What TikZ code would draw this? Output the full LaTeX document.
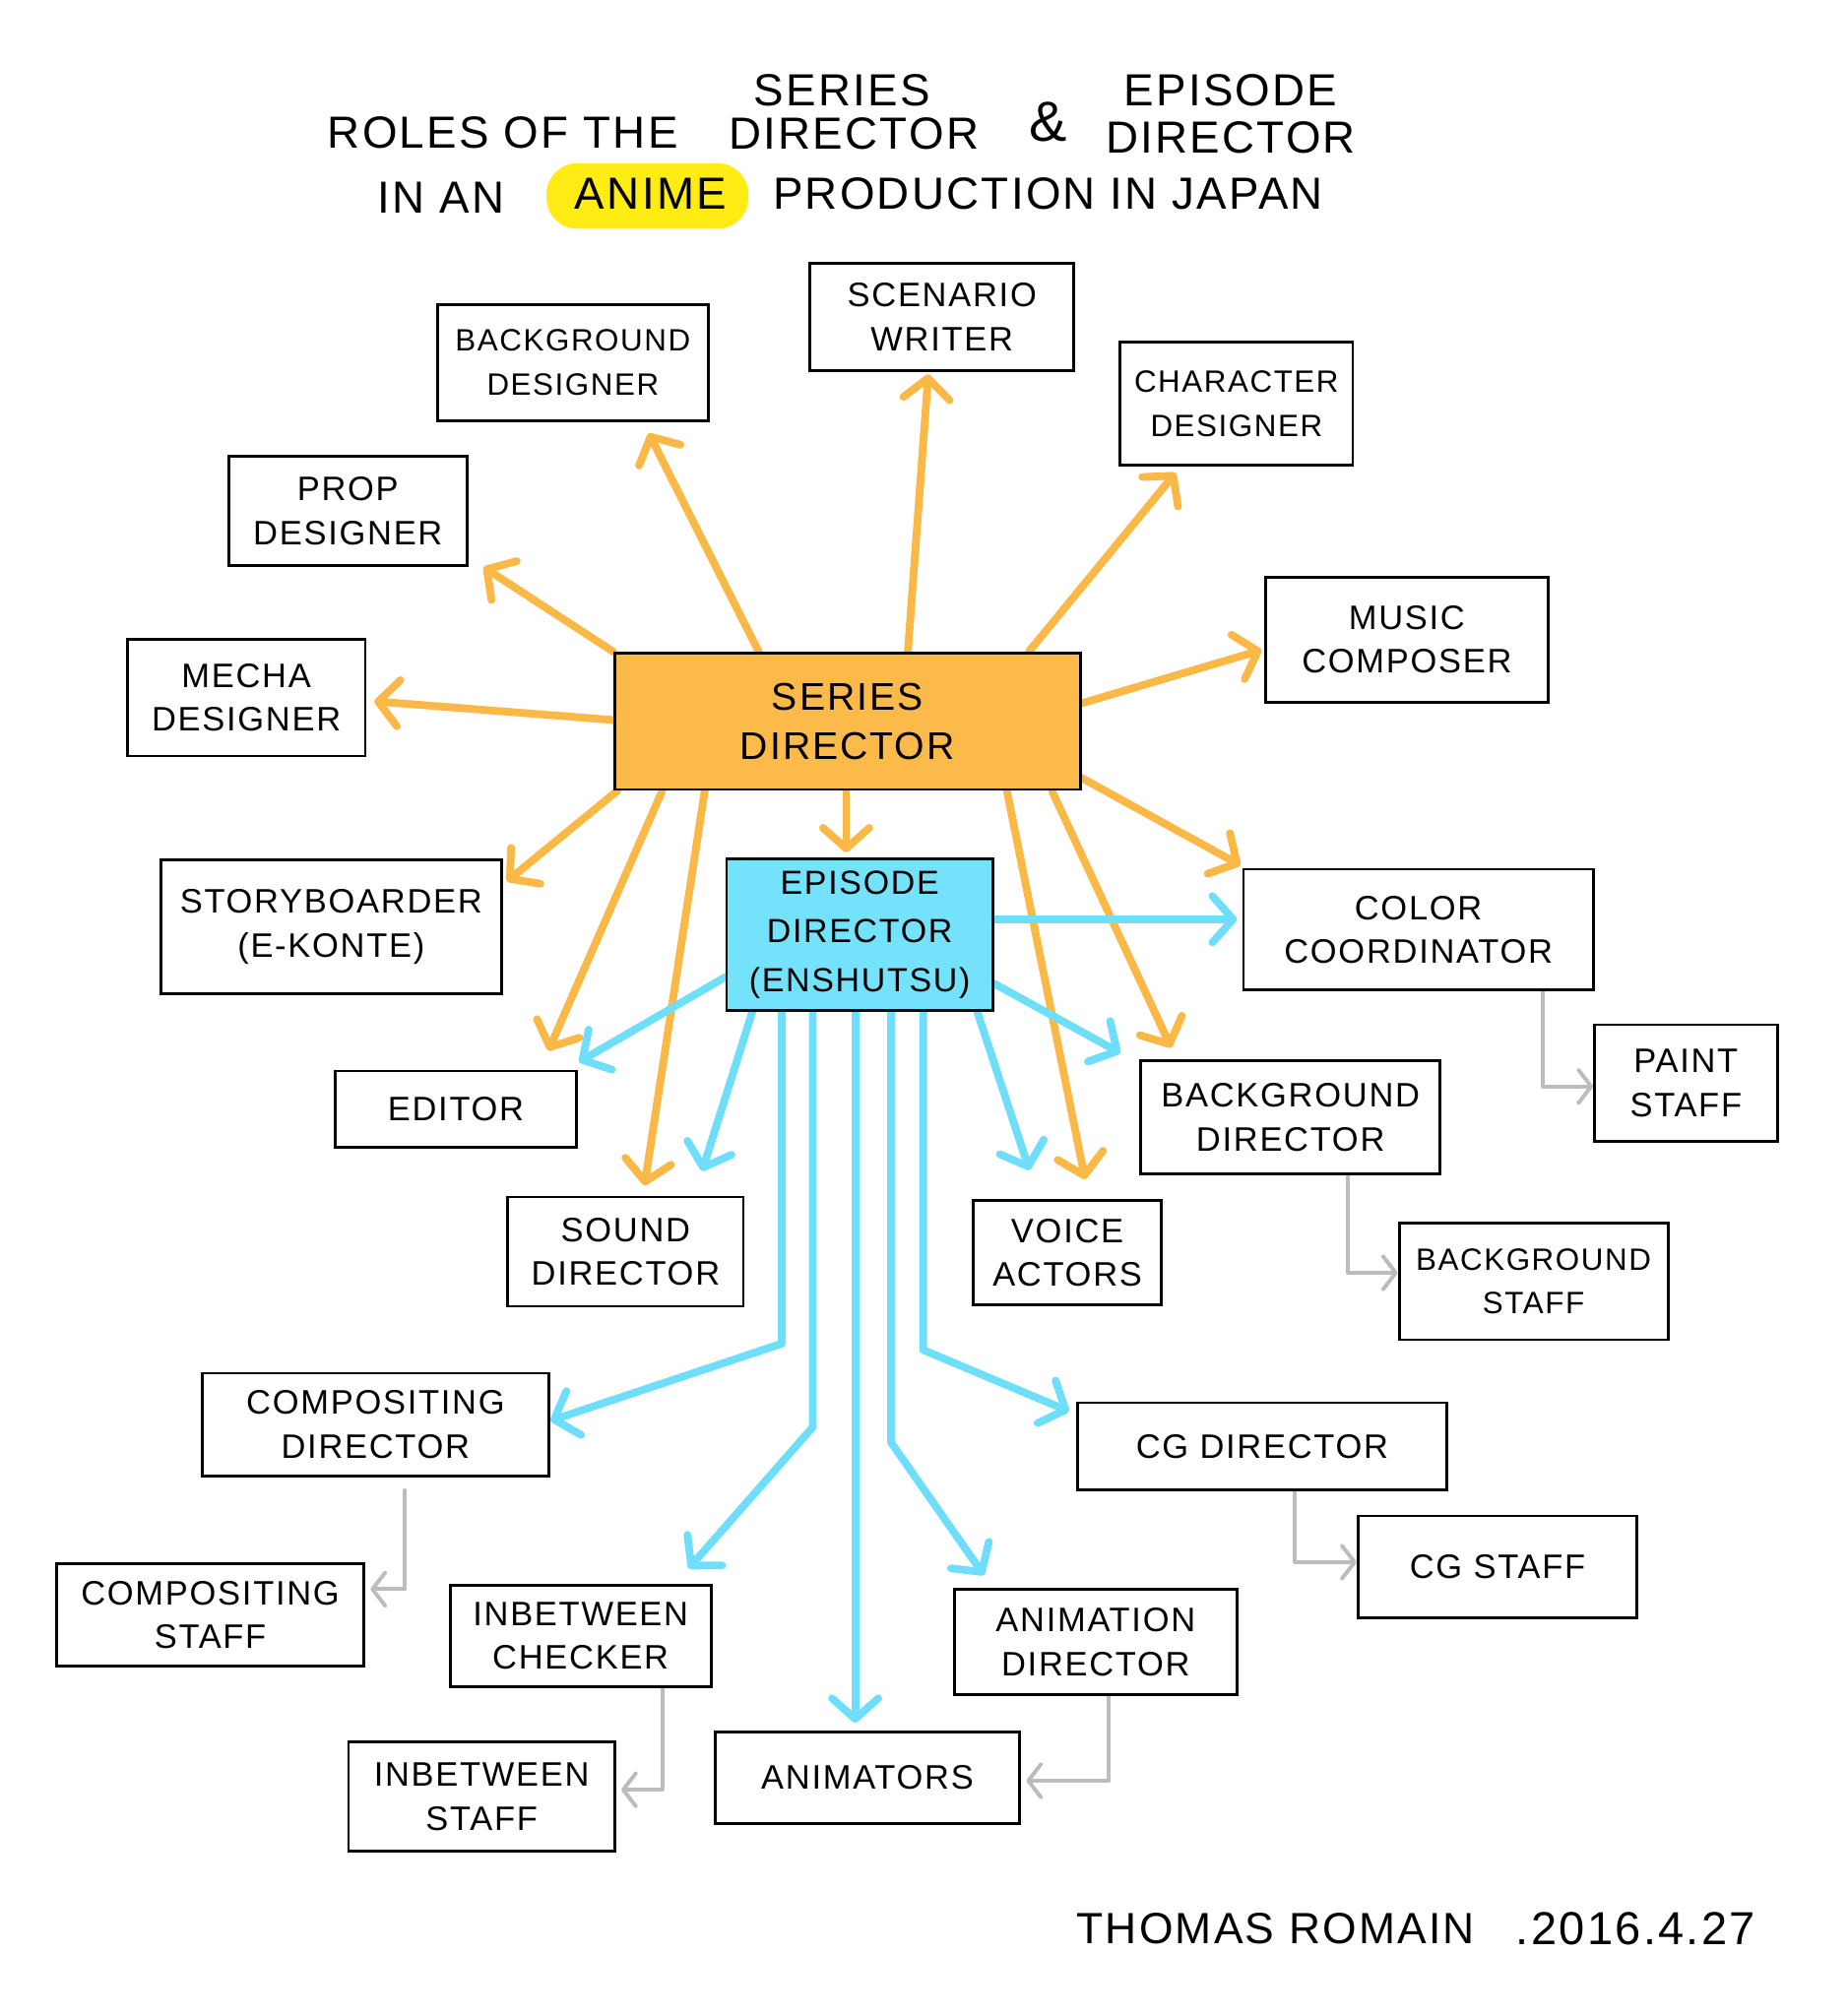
\documentclass[tikz,border=0pt]{standalone}
\usepackage{fontspec}
\setmainfont{Liberation Sans}[LetterSpace=5]
\usetikzlibrary{arrows.meta,calc}
\pgfdeclarelayer{bg}
\pgfsetlayers{bg,main}
\definecolor{orfill}{RGB}{252,186,74}
\definecolor{orline}{RGB}{250,184,70}
\definecolor{cyfill}{RGB}{115,226,250}
\definecolor{cyline}{RGB}{110,222,250}
\definecolor{grline}{RGB}{188,188,188}
\definecolor{hl}{RGB}{255,236,20}
\newcommand\bx[7][]{\node[box,#1, minimum width={(#5-#3)*0.5pt}, minimum height={(#6-#4)*0.5pt}] (#2) at ({(#3+#5)/2},{(#4+#6)/2}) {#7};}
\begin{document}
\begin{tikzpicture}[x=0.5pt,y=-0.5pt,
  box/.style={draw=black, line width=1.1pt, fill=white, inner sep=0pt, align=center, font=\fontsize{13.2}{17}\selectfont},
  small/.style={font=\fontsize{12}{17}\selectfont},
  ttl/.style={inner sep=0pt, font=\fontsize{17.5}{18}\selectfont},
  oarr/.style={draw=orline, line width=3pt, line cap=round, line join=round, -{Straight Barb[round,length=8pt,width=18pt]}},
  carr/.style={draw=cyline, line width=3pt, line cap=round, line join=round, -{Straight Barb[round,length=8pt,width=18pt]}},
  garr/.style={draw=grline, line width=1.5pt, line cap=round, line join=round, -{Straight Barb[round,length=5pt,width=13pt]}}]
\useasboundingbox (0,0) rectangle (1437,1568);
% title
\node[ttl] (t1) at (391,103) {ROLES OF THE};
\node[ttl] (t2) at (655,70) {SERIES};
\node[ttl] (t3) at (664,104) {DIRECTOR};
\node[ttl, font=\fontsize{22}{22}\selectfont] (t4) at (815,95) {\&};
\node[ttl] (t5) at (957,70) {EPISODE};
\node[ttl] (t6) at (957,107) {DIRECTOR};
\node[ttl] (t7) at (343,154) {IN AN};
\node[ttl] (t8) at (506,151) {ANIME};
\node[ttl] (t9) at (815,151) {PRODUCTION IN JAPAN};
% boxes
\bx{sw}{630}{205}{835}{288}{SCENARIO\\WRITER}
\bx[small]{bgd}{340}{237}{551}{327}{BACKGROUND\\DESIGNER}
\bx[small]{chd}{871}{266}{1052}{362}{CHARACTER\\DESIGNER}
\bx{prd}{178}{355}{363}{440}{PROP\\DESIGNER}
\bx{mus}{984}{449}{1204}{546}{MUSIC\\COMPOSER}
\bx{mec}{99}{497}{284}{588}{MECHA\\DESIGNER}
\bx[fill=orfill, font=\fontsize{15}{19}\selectfont]{sd}{478}{508}{840}{614}{SERIES\\DIRECTOR}
\bx{stb}{125}{669}{390}{773}{STORYBOARDER\\(E-KONTE)}
\bx[fill=cyfill, font=\fontsize{13}{19}\selectfont]{ed}{565}{668}{772}{786}{EPISODE\\DIRECTOR\\(ENSHUTSU)}
\bx{cc}{967}{676}{1239}{770}{COLOR\\COORDINATOR}
\bx{edi}{261}{833}{448}{892}{EDITOR}
\bx{ps}{1240}{797}{1382}{888}{PAINT\\STAFF}
\bx{bgdir}{887}{825}{1120}{913}{BACKGROUND\\DIRECTOR}
\bx{snd}{395}{931}{578}{1016}{SOUND\\DIRECTOR}
\bx{va}{757}{934}{903}{1015}{VOICE\\ACTORS}
\bx[small]{bgs}{1088}{951}{1297}{1042}{BACKGROUND\\STAFF}
\bx{cdir}{157}{1068}{427}{1148}{COMPOSITING\\DIRECTOR}
\bx{cg}{838}{1091}{1125}{1159}{CG DIRECTOR}
\bx{cst}{44}{1216}{283}{1296}{COMPOSITING\\STAFF}
\bx{cgs}{1056}{1179}{1273}{1258}{CG STAFF}
\bx{ibc}{350}{1233}{553}{1312}{INBETWEEN\\CHECKER}
\bx{ad}{742}{1236}{962}{1318}{ANIMATION\\DIRECTOR}
\bx{ibs}{271}{1355}{478}{1440}{INBETWEEN\\STAFF}
\bx{an}{556}{1347}{793}{1418}{ANIMATORS}
% signature
\node[ttl, font=\fontsize{17}{17}\selectfont] (sg1) at (992,1500) {THOMAS ROMAIN};
\node[ttl, font=\fontsize{18}{18}\selectfont] (sg2) at (1272,1500) {.2016.4.27};
\begin{pgfonlayer}{bg}
\fill[white] (0,0) rectangle (1437,1568);
\fill[hl, rounded corners=12pt] (425,127) rectangle (582,178);
% orange arrows from series director
\draw[oarr, shorten >=1pt] (sd.north -| 706,0) -- (sw.south -| 722,0);
\draw[oarr, shorten >=5pt] (sd.north -| 590,0) -- (bgd.south -| 500,0);
\draw[oarr, shorten >=3pt] (sd.north -| 800,0) -- (chd.south -| 918,0);
\draw[oarr] (sd.north west) -- ([xshift=6pt]prd.south east);
\draw[oarr, shorten >=1pt] (sd.east |- 0,547) -- (mus.west |- 0,505);
\draw[oarr, shorten >=3pt] (sd.west |- 0,560) -- (mec.east |- 0,545);
\draw[oarr, shorten >=2pt] (sd.south -| 480,0) -- (stb.east |- 0,688);
\draw[oarr, shorten >=8pt] (sd.south -| 515,0) -- (edi.north -| 420,0);
\draw[oarr, shorten >=4pt] (sd.south -| 548,0) -- (snd.north -| 500,0);
\draw[oarr, shorten >=2pt] (sd.south -| 658,0) -- (ed.north -| 658,0);
\draw[oarr, shorten >=8pt] (sd.south -| 783,0) -- (va.north -| 847,0);
\draw[oarr, shorten >=5pt] (sd.south -| 818,0) -- (bgdir.north -| 915,0);
\draw[oarr, shorten >=2pt] (sd.east |- 0,605) -- (cc.north -| 968,0);
% cyan arrows from episode director
\draw[carr, shorten >=2pt] (ed.east |- 0,715) -- (cc.west |- 0,715);
\draw[carr, shorten >=5pt] (ed.east |- 0,765) -- (bgdir.north -| 880,0);
\draw[carr, shorten >=12pt] (ed.south -| 760,0) -- (va.north -| 808,0);
\draw[carr, shorten >=6pt] (ed.west |- 0,760) -- (edi.north -| 440,0);
\draw[carr, shorten >=10pt] (ed.south -| 585,0) -- (snd.north -| 540,0);
\draw[carr] (ed.south -| 608,0) -- (608,1045) -- (cdir.east |- 0,1105);
\draw[carr, shorten >=8pt] (ed.south -| 632,0) -- (632,1110) -- (ibc.north -| 525,0);
\draw[carr, shorten >=3pt] (ed.south -| 665,0) -- (an.north -| 665,0);
\draw[carr, shorten >=6pt] (ed.south -| 693,0) -- (693,1122) -- (ad.north -| 772,0);
\draw[carr, shorten >=3pt] (ed.south -| 718,0) -- (718,1050) -- (cg.west |- 0,1100);
% gray arrows
\draw[garr] (cc.south -| 1200,0) |- (ps.west |- 0,845);
\draw[garr] (bgdir.south -| 1048,0) |- (bgs.west |- 0,990);
\draw[garr, shorten >=2pt] (cdir.south -| 315,0) ++(0,10) |- (cst.east |- 0,1236);
\draw[garr] (cg.south -| 1007,0) |- (cgs.west |- 0,1215);
\draw[garr, shorten >=2pt] (ibc.south -| 515,0) |- (ibs.east |- 0,1392);
\draw[garr, shorten >=2pt] (ad.south -| 862,0) |- (an.east |- 0,1385);
\end{pgfonlayer}
\end{tikzpicture}
\end{document}
